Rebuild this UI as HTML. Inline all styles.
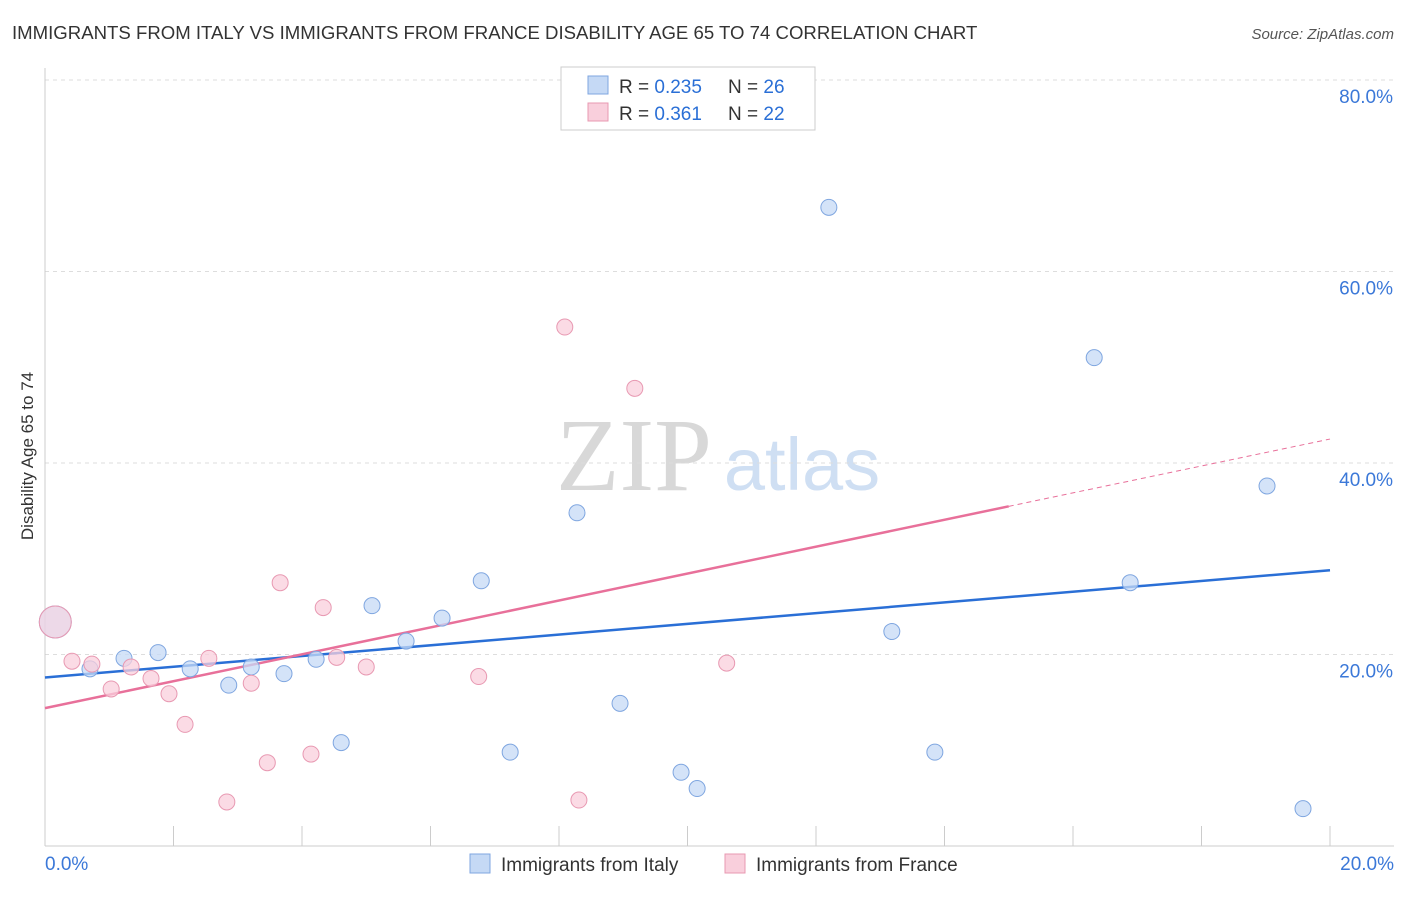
<!DOCTYPE html>
<html><head><meta charset="utf-8"><style>
body{margin:0;background:#fff;font-family:"Liberation Sans",sans-serif}
</style></head><body>
<svg width="1406" height="892" xmlns="http://www.w3.org/2000/svg">
<text x="12" y="39" font-size="18.6" fill="#333">IMMIGRANTS FROM ITALY VS IMMIGRANTS FROM FRANCE DISABILITY AGE 65 TO 74 CORRELATION CHART</text>
<text x="1394" y="39" font-size="15" fill="#555" font-style="italic" text-anchor="end">Source: ZipAtlas.com</text>
<text x="33" y="456" font-size="17" fill="#333" text-anchor="middle" transform="rotate(-90 33 456)">Disability Age 65 to 74</text>
<g>
<text x="634" y="490" font-size="104" fill="#d8d8d8" font-family="Liberation Serif,serif" text-anchor="middle">ZIP</text>
<text x="802" y="490" font-size="74" fill="#cfdff3" text-anchor="middle">atlas</text>
</g>
<g id="grid"></g><g id="axes"></g><g id="lines"></g><g id="pts"></g>
<g>
<rect x="561" y="67" width="254" height="63" fill="#fff" stroke="#ccc"/>
<rect x="588" y="76" width="20" height="18" fill="#c5d9f5" stroke="#7fa6e0"/>
<rect x="588" y="103" width="20" height="18" fill="#f9cfdc" stroke="#e899b2"/>
<text x="619" y="93" font-size="19" fill="#333">R = <tspan fill="#2a6fd6">0.235</tspan><tspan x="728">N = </tspan><tspan fill="#2a6fd6">26</tspan></text>
<text x="619" y="120" font-size="19" fill="#333">R = <tspan fill="#2a6fd6"> 0.361</tspan><tspan x="728">N = </tspan><tspan fill="#2a6fd6">22</tspan></text>
</g>
<g>
<rect x="470" y="854" width="20" height="19" fill="#c5d9f5" stroke="#7fa6e0"/>
<text x="501" y="871" font-size="19" fill="#333">Immigrants from Italy</text>
<rect x="725" y="854" width="20" height="19" fill="#f9cfdc" stroke="#e899b2"/>
<text x="756" y="871" font-size="19" fill="#333">Immigrants from France</text>
</g>
</svg>
<script>
const italyX=[0.16,0.70,1.23,1.76,2.26,2.86,3.21,3.72,4.22,4.61,5.09,5.62,6.18,6.79,7.24,8.28,8.95,9.90,10.15,12.20,13.18,13.85,16.33,16.89,19.02,19.58];
const italyY=[23.4,18.5,19.6,20.2,18.5,16.8,18.7,18.0,19.5,10.8,25.1,21.4,23.8,27.7,9.8,34.8,14.9,7.7,6.0,66.7,22.4,9.8,51.0,27.5,37.6,3.9];
const franceX=[0.16,0.42,0.73,1.03,1.34,1.65,1.93,2.18,2.55,2.83,3.21,3.46,3.66,4.14,4.33,4.54,5.00,6.75,8.09,8.31,9.18,10.61];
const franceY=[23.4,19.3,19.0,16.4,18.7,17.5,15.9,12.7,19.6,4.6,17.0,8.7,27.5,9.6,24.9,19.7,18.7,17.7,54.2,4.8,47.8,19.1];
const italyLine=[17.6,28.8];
const franceLine=[14.4,42.5];
const franceSolidEnd=15.0;
const yTicks=[20,40,60,80];
const xTicks=[0,2,4,6,8,10,12,14,16,18,20];
const NS="http://www.w3.org/2000/svg";
const sx=v=>45+v*1285/20, sy=v=>846-v*191.5/20;
function mk(p,t,a){const e=document.createElementNS(NS,t);for(const k in a)e.setAttribute(k,a[k]);document.getElementById(p).appendChild(e);return e;}
yTicks.forEach(t=>{
 const g=mk('grid','line',{x1:45,x2:1394,y1:sy(t),y2:sy(t),stroke:'#ddd','stroke-dasharray':'4 4'});
 
 
 const l=mk('grid','text',{x:1393,y:sy(t)+23,'font-size':19,fill:'#3b78d8','text-anchor':'end'});
 l.textContent=t.toFixed(1)+'%';
 
 
});
mk('axes','line',{x1:45,x2:45,y1:68,y2:846,stroke:'#ccc'});
mk('axes','line',{x1:45,x2:1394,y1:846,y2:846,stroke:'#ccc'});
xTicks.forEach(t=>{
 const k=mk('axes','line',{x1:sx(t),x2:sx(t),y1:826,y2:846,stroke:'#ccc'});
 
 
});
const xl0=mk('axes','text',{x:45,y:870,'font-size':19,fill:'#3b78d8'});xl0.textContent='0.0%';


const xl1=mk('axes','text',{x:1394,y:870,'font-size':19,fill:'#3b78d8','text-anchor':'end'});xl1.textContent='20.0%';


function pts(X,Y,fill,stroke,name){
 X.forEach((x,i)=>{
  const big=i===0;
  const c=mk('pts','circle',{cx:sx(x),cy:sy(Y[i]),r:big?16:8,fill:fill,stroke:stroke,'stroke-width':1,'fill-opacity':big?0.6:0.75});
  
  
 });
}
const fl=(a)=>franceLine[0]+(franceLine[1]-franceLine[0])*a/20;
const bl=mk('lines','line',{x1:sx(0),y1:sy(italyLine[0]),x2:sx(20),y2:sy(italyLine[1]),stroke:'#2a6fd6','stroke-width':2.5});


const pl=mk('lines','line',{x1:sx(0),y1:sy(fl(0)),x2:sx(franceSolidEnd),y2:sy(fl(franceSolidEnd)),stroke:'#e8709a','stroke-width':2.5});


const pd=mk('lines','line',{x1:sx(franceSolidEnd),y1:sy(fl(franceSolidEnd)),x2:sx(20),y2:sy(fl(20)),stroke:'#e8709a','stroke-width':1,'stroke-dasharray':'5 4'});


pts(italyX,italyY,'#c5d9f5','#7fa6e0','italy-point');
pts(franceX,franceY,'#f9cfdc','#e899b2','france-point');
</script>
</body></html>
